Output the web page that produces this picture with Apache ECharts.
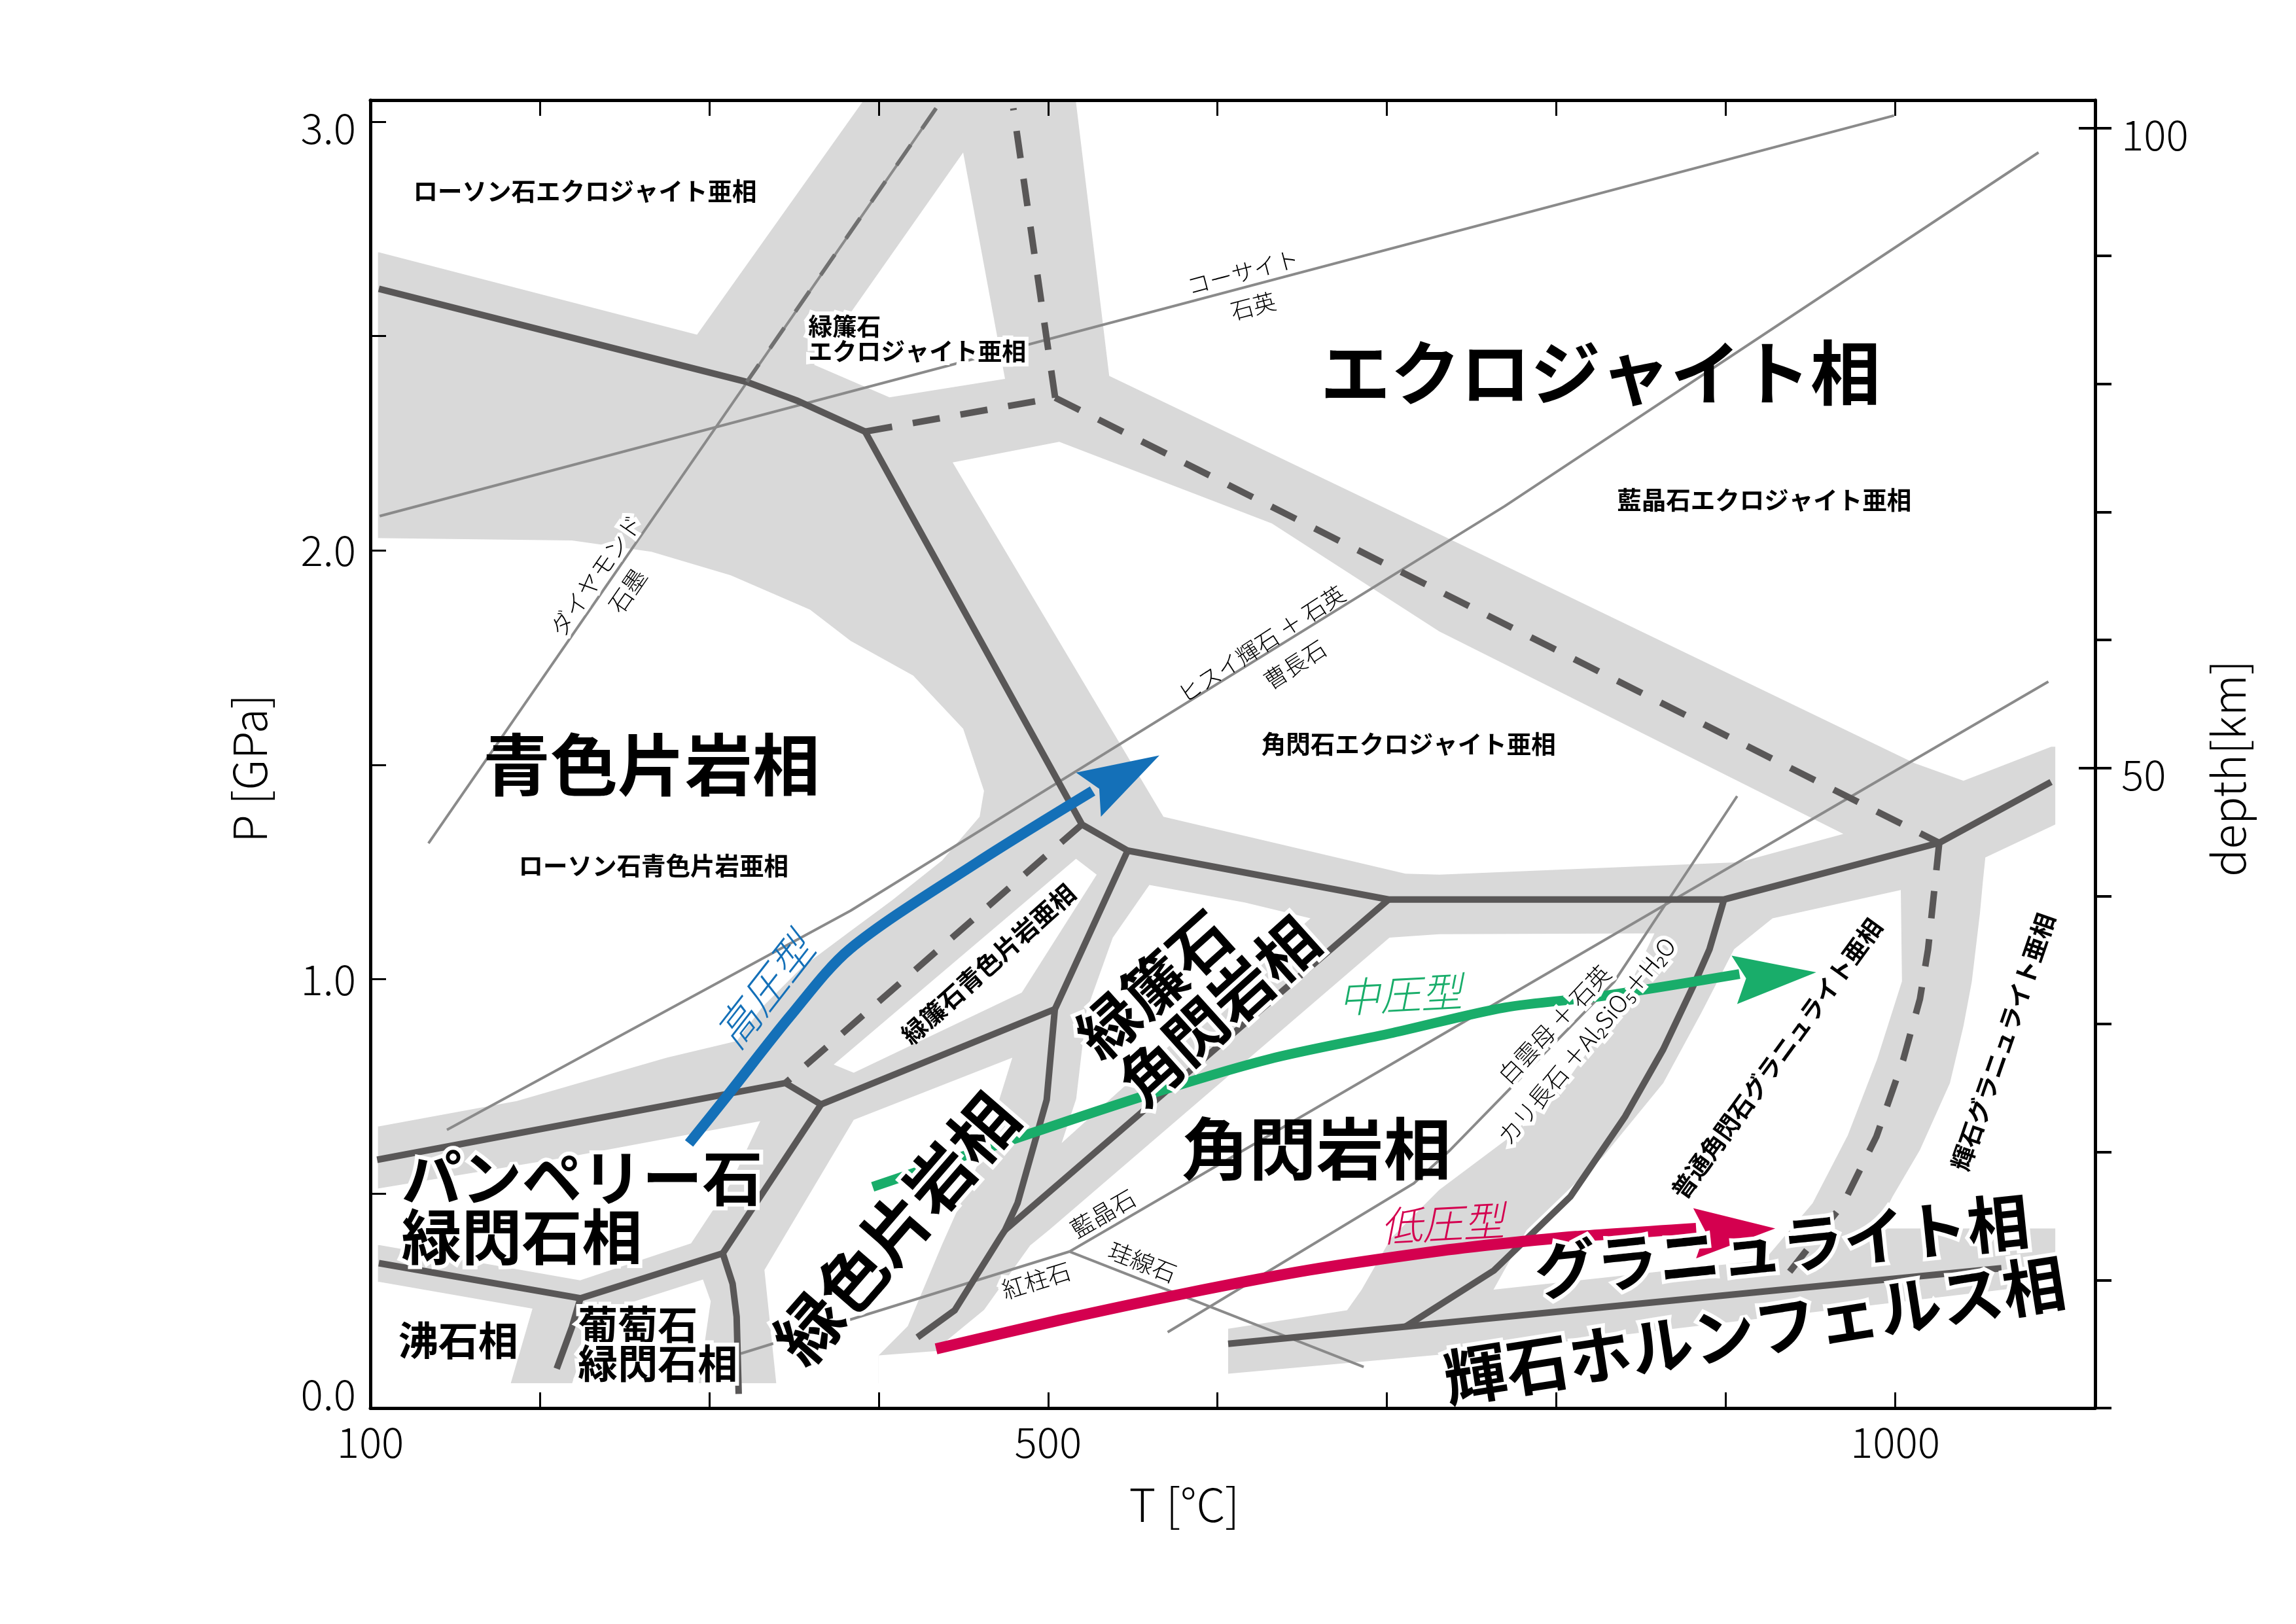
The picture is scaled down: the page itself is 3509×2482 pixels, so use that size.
<!DOCTYPE html>
<html><head><meta charset="utf-8">
<script src="https://cdn.jsdelivr.net/npm/echarts@6/dist/echarts.min.js"></script>
<style>html,body{margin:0;padding:0;background:#fff}#c{width:3509px;height:2482px}</style>
</head><body><div id="c"></div>
<script>
// ---------- axes ----------
const T_TICKS = [100,200,300,400,500,600,700,800,900,1000];
const T_LABELS = [100,500,1000];
const P_TICKS = [0,0.5,1,1.5,2,2.5,3];
const P_LABELS = [0,1,2,3];
const DEPTH_TICKS = [0,10,20,30,40,50,60,70,80,90,100];
const DEPTH_LABELS = [50,100];
const DEPTH_MAJOR = [50,100];
const KM_PER_GPA = 33.5;

// ---------- facies bands (T [°C], P [GPa]) ----------
const BAND_AREA = [[104.5,0.058],[1094.5,0.058],[1094.5,3.06],[104.5,3.06]];
// white facies fields cut out of the band area
const W1 = [[97.5,3.081],[396.8,3.081],[292.8,2.503],[105.3,2.695],[97.5,2.695]];
const W2 = [[449.9,2.928],[361.9,2.433],[406.4,2.357],[474.6,2.400]];
const W3 = [[515.3,3.081],[1125.8,3.081],[1125.8,1.542],[1092.1,1.542],[1040.3,1.463],[1011.3,1.504],[730.9,2.038],[536.1,2.407],[516.3,3.051]];
const W4 = [[443.7,2.205],[506.6,2.253],[632.1,2.063],[730.9,1.811],[969.4,1.339],[908.1,1.273],[730.9,1.244],[710.9,1.246],[568.1,1.379],[453.5,2.140]];
const W5 = [[97.5,2.029],[219.0,2.023],[265.9,1.997],[312.7,1.942],[359.5,1.862],[383.5,1.789],[420.4,1.708],[449.9,1.584],[462.2,1.439],[459.6,1.379],[437.5,1.277],[407.9,1.184],[381.3,1.106],[354.8,1.028],[331.1,0.934],[316.3,0.856],[274.9,0.817],[186.4,0.716],[105.0,0.657],[97.5,0.657]];
const W6 = [[516.5,1.281],[528.7,1.244],[484.5,0.969],[385.3,0.782],[373.5,0.801]];
const W7 = [[97.5,0.512],[104.4,0.512],[219.0,0.587],[330.1,0.669],[312.7,0.524],[289.3,0.384],[223.8,0.298],[105.6,0.380],[97.5,0.380]];
const W8 = [[97.5,0.294],[105.6,0.294],[195.7,0.232],[182.8,0.057],[182.8,-0.05],[97.5,-0.05]];
const W9 = [[233.1,0.220],[296.3,0.300],[300.9,0.249],[293.8,0.057],[293.8,-0.05],[219.0,-0.05],[219.0,0.057]];
const W10 = [[339.6,-0.05],[339.6,0.057],[332.6,0.322],[385.3,0.672],[478.9,0.817],[461.1,0.591],[437.5,0.382],[417.2,0.191],[400.0,0.123],[400.0,-0.05]];
const W11 = [[559.8,1.220],[616.0,1.179],[654.9,1.142],[508.0,0.618],[516.6,0.721],[522.7,0.926],[538.2,1.097]];
const W12 = [[400.0,-0.05],[400.0,0.123],[434.5,0.133],[440.1,0.157],[462.2,0.229],[489.4,0.379],[501.1,0.417],[701.5,1.097],[730.9,1.105],[857.9,1.107],[853.4,1.070],[837.4,0.937],[808.2,0.774],[772.8,0.633],[730.9,0.509],[702.4,0.396],[685.1,0.276],[676.5,0.228],[606.3,0.185],[606.3,-0.05]];
const W13 = [[927.6,1.142],[1003.3,1.208],[1004.0,0.995],[989.3,0.813],[972.0,0.636],[951.3,0.478],[922.7,0.345],[762.9,0.276],[782.5,0.415],[827.7,0.587],[863.1,0.758],[885.6,0.922],[904.9,1.070]];
const W14 = [[1053.2,1.284],[1099.9,1.371],[1099.9,0.419],[988.8,0.419],[998.4,0.493],[1014.6,0.602],[1032.3,0.758],[1040.3,0.891],[1045.2,0.994],[1050.0,1.153],[1051.7,1.226]];
const W15 = [[606.3,0.080],[769.5,0.138],[1078.3,0.283],[1099.9,0.311],[1099.9,-0.05],[606.3,-0.05]];
const WHITE_FIELDS = [W1,W2,W3,W4,W5,W6,W7,W8,W9,W10,W11,W12,W13,W14,W15];

// ---------- facies boundaries ----------
const SOLID_LINES = [
  [[105,2.61],[322,2.393],[352,2.349],[392,2.277]],
  [[392,2.277],[520,1.361],[547,1.30]],
  [[547,1.30],[701,1.186],[899,1.186],[1026,1.318],[1092,1.46]],
  [[547,1.30],[504,0.93]],
  [[504,0.93],[366,0.708]],
  [[104,0.579],[345,0.758],[366,0.708]],
  [[366,0.708],[308,0.361]],
  [[308,0.361],[224,0.256],[105,0.338]],
  [[224,0.256],[219,0.189],[210,0.092]],
  [[308,0.361],[313.8,0.290],[316.2,0.213],[317.4,0.033]],
  [[504,0.93],[499.2,0.719],[482,0.478],[474.6,0.415],[472.1,0.400],[444.9,0.228],[422.9,0.165]],
  [[701,1.186],[474.6,0.415]],
  [[899,1.186],[890.4,1.070],[882.1,0.995],[863,0.836],[840.6,0.680],[808.3,0.493],[763.2,0.321],[711,0.19]],
  [[606.3,0.150],[711,0.19],[1062.7,0.326]]
];
const DASHED_LINES = [
  [[1026,1.318],[1019.4,1.070],[1014.6,0.954],[1004.8,0.813],[988.9,0.633],[969.4,0.477],[930.8,0.283]],
  [[392,2.277],[504.2,2.356]],
  [[504.2,2.356],[479.5,3.031]],
  [[504.2,2.356],[1026,1.318]],
  [[520,1.361],[345,0.758]]
];
const DIAMOND_DASH = [[433.9,3.031],[322.2,2.393]];
// ---------- reaction curves ----------
const REACTIONS = [
  [[434,3.031],[134.3,1.317]],                       // diamond / graphite
  [[105.5,2.080],[999.3,3.014]],                     // coesite / quartz
  [[145.2,0.649],[383.5,1.160],[769.5,2.103],[1084.6,2.928]], // jadeite+qz / albite
  [[906.7,1.427],[834.1,0.994],[737.4,0.602],[715.9,0.524],[570.6,0.177]], // musc+qz
  [[512.7,0.365],[1090.4,1.694]],                    // ky / sil
  [[318.6,0.127],[512.7,0.365]],                     // ky / and
  [[512.7,0.365],[686.3,0.096]]                      // sil / and
];
// ---------- P-T paths ----------
const HIGH_P = [[288.1,0.617],[310.4,0.727],[347.8,0.914],[382.9,1.070],[457.3,1.270],[526.3,1.439]];
const HIGH_P_HEAD = [[565.7,1.522],[516.5,1.482],[530.2,1.444],[531.2,1.379]];
const MID_P = [[396.5,0.516],[454.9,0.594],[555.9,0.727],[629.7,0.813],[703.5,0.875],[769.5,0.934],[827.7,0.961],[908.1,1.012]];
const MID_P_HEAD = [[953.4,1.016],[903.4,1.055],[912,1.002],[906.7,0.942]];
const LOW_P = [[433.9,0.138],[506.6,0.205],[580.5,0.267],[654.4,0.322],[728.2,0.365],[769.5,0.384],[811.5,0.400],[882.5,0.419]];
const LOW_P_HEAD = [[929.2,0.419],[880.8,0.466],[888,0.412],[882.5,0.349]];

const BLUE = '#1470b8', GREEN = '#19ad6a', RED = '#d4004f';
const GRAY = '#d9d9d9', DARK = '#595757', THIN = '#8a8a8a';
const FONT = '"Noto Sans CJK JP","Noto Sans","DejaVu Sans",sans-serif';

const LABELS = [
 {text:'ローソン石エクロジャイト亜相', t:226.7, p:2.838, size:37.5},
 {text:'緑簾石\nエクロジャイト亜相', t:358.5, p:2.493, size:37, align:'left', lh:38, halo:true},
 {text:'エクロジャイト相', t:826, p:2.414, size:107},
 {text:'コーサイト', t:615, p:2.649, size:35, w:300, rot:14.8},
 {text:'石英', t:621, p:2.570, size:35, w:300, rot:14.8},
 {text:'ダイヤモンド', t:233.1, p:1.942, size:36, w:300, rot:55.3, halo:true},
 {text:'石墨', t:251.8, p:1.906, size:36, w:300, rot:55.3, halo:true},
 {text:'青色片岩相', t:265.9, p:1.500, size:103},
 {text:'ローソン石青色片岩亜相', t:267.1, p:1.266, size:37.5},
 {text:'ヒスイ輝石 ＋ 石英', t:626, p:1.782, size:35, w:300, rot:33},
 {text:'曹長石', t:645.7, p:1.734, size:35, w:300, rot:33},
 {text:'角閃石エクロジャイト亜相', t:712.8, p:1.549, size:37.5},
 {text:'藍晶石エクロジャイト亜相', t:922.7, p:2.118, size:37.5},
 {text:'高圧型', t:332.6, p:0.973, size:66, w:300, rot:52, color:BLUE, italic:true},
 {text:'緑簾石青色片岩亜相', t:464.7, p:1.036, size:38, rot:42},
 {text:'緑簾石　\n角閃岩相', t:588.3, p:0.981, size:93, rot:42, lh:96, halo:true},
 {text:'角閃岩相', t:658.3, p:0.605, size:103},
 {text:'緑色片岩相', t:410.2, p:0.419, size:101, rot:49, halo:true},
 {text:'パンペリー石\n緑閃石相', t:118.3, p:0.468, size:92, align:'left', lh:90, halo:true},
 {text:'沸石相', t:151.8, p:0.158, size:61},
 {text:'葡萄石\n緑閃石相', t:222.5, p:0.149, size:61, align:'left', lh:59, halo:true},
 {text:'紅柱石', t:493.0, p:0.298, size:36, w:300, rot:17.2, halo:true},
 {text:'藍晶石', t:532.4, p:0.454, size:36, w:300, rot:30.2, halo:true},
 {text:'珪線石', t:555.8, p:0.341, size:36, w:300, rot:-21.4, halo:true},
 {text:'中圧型', t:707.8, p:0.965, size:63, w:300, rot:3, color:GREEN, italic:true},
 {text:'低圧型', t:732.7, p:0.431, size:63, w:300, rot:3, color:RED, italic:true},
 {text:'白雲母 ＋ 石英', t:798.7, p:0.895, size:36, w:300, rot:47, halo:true},
 {text:'カリ長石 ＋Al₂SiO₅＋H₂O', t:817.8, p:0.856, size:36, w:300, rot:50, halo:true},
 {text:'普通角閃石グラニュライト亜相', t:930.1, p:0.815, size:37, rot:54},
 {text:'輝石グラニュライト亜相', t:1063.6, p:0.854, size:37.5, rot:71},
 {text:'グラニュライト相', t:933, p:0.378, size:95, rot:6, halo:true},
 {text:'輝石ホルンフェルス相', t:917, p:0.182, size:96, rot:9, halo:true}
];

// ---------- series builders ----------
function polySeries(list, color, z) {
  return {
    type:'custom', coordinateSystem:'cartesian2d', xAxisIndex:0, yAxisIndex:0,
    clip:true, silent:true, z:z, animation:false,
    data: list.map((_, i) => [i]),
    renderItem: (params, api) => ({
      type:'polygon',
      shape:{ points: list[params.dataIndex].map(pt => api.coord(pt)) },
      style:{ fill: color }
    })
  };
}
function lineSeries(pts, color, width, o) {
  o = o || {};
  return {
    type:'line', data: pts, xAxisIndex:0, yAxisIndex:0, showSymbol:false, symbol:'none',
    silent:true, animation:false, z: o.z || 4, smooth: o.smooth || false, clip:true,
    lineStyle:{ color, width, type: o.dash || 'solid', cap: o.cap || 'butt', join: o.join || 'round' }
  };
}

const series = [];
series.push(polySeries([BAND_AREA], GRAY, 1));
series.push(polySeries(WHITE_FIELDS, '#ffffff', 2));
REACTIONS.forEach(r => series.push(lineSeries(r, THIN, 4, {z:3})));
SOLID_LINES.forEach(l => series.push(lineSeries(l, DARK, 10, {z:4, join:'miter'})));
DASHED_LINES.forEach(l => series.push(lineSeries(l, DARK, 10, {z:4, dash:[42,32]})));
series.push(lineSeries(DIAMOND_DASH, '#707070', 6, {z:4, dash:[38,30]}));
series.push(lineSeries(HIGH_P, BLUE, 16, {z:5, smooth:0.3}));
series.push(lineSeries(MID_P, GREEN, 15, {z:5, smooth:0.3}));
series.push(lineSeries(LOW_P, RED, 17, {z:5, smooth:0.3}));
series.push(polySeries([HIGH_P_HEAD], BLUE, 5));
series.push(polySeries([MID_P_HEAD], GREEN, 5));
series.push(polySeries([LOW_P_HEAD], RED, 5));
series.push({
  type:'custom', coordinateSystem:'cartesian2d', xAxisIndex:0, yAxisIndex:0,
  clip:false, silent:true, z:10, animation:false,
  data: LABELS.map(l => [l.t, l.p]),
  renderItem: (params, api) => {
    const l = LABELS[params.dataIndex];
    const pt = api.coord([l.t, l.p]);
    return {
      type:'text', x:pt[0], y:pt[1], rotation:(l.rot || 0) * Math.PI / 180,
      style:{
        text:l.text, fill:l.color || '#000',
        fontSize:l.size, fontFamily:FONT, fontWeight:l.w || 'bold',
        fontStyle:l.italic ? 'italic' : 'normal',
        align:l.align || 'center', verticalAlign:'middle',
        lineHeight:l.lh || Math.round(l.size * 1.1),
        stroke:l.halo ? '#ffffff' : null, lineWidth:l.halo ? 12 : 0
      }
    };
  }
});

const tickFont = {fontSize:64, fontFamily:FONT, fontWeight:300, color:'#000'};
const AX_Z = 30;
const option = {
  animation:false,
  backgroundColor:'#ffffff',
  grid:{left:566, top:153, width:2636, height:1999, containLabel:false},
  xAxis:[
    {type:'value', min:100, max:1118, interval:100, position:'bottom', z:AX_Z,
     name:'T [°C]', nameLocation:'middle', nameGap:112,
     nameTextStyle:{fontSize:70, fontFamily:FONT, fontWeight:300, color:'#000', padding:[0,148,0,0]},
     axisLine:{show:true, onZero:false, lineStyle:{color:'#000', width:5}},
     axisTick:{show:true, inside:true, length:24, customValues:T_TICKS, lineStyle:{color:'#000', width:3}},
     axisLabel:Object.assign({customValues:T_LABELS, margin:20,
       formatter:v => T_LABELS.indexOf(v) >= 0 ? String(v) : ''}, tickFont),
     splitLine:{show:false}},
    {type:'value', min:100, max:1118, interval:100, position:'top', z:AX_Z,
     axisLine:{show:true, onZero:false, lineStyle:{color:'#000', width:5}},
     axisTick:{show:true, inside:true, length:24, customValues:T_TICKS.slice(1), lineStyle:{color:'#000', width:3}},
     axisLabel:{show:false}, splitLine:{show:false}}
  ],
  yAxis:[
    {type:'value', min:0, max:3.05, interval:0.5, position:'left', z:AX_Z,
     name:'P [GPa]', nameLocation:'middle', nameGap:150, nameRotate:90,
     nameTextStyle:{fontSize:70, fontFamily:FONT, fontWeight:300, color:'#000', padding:[0,44,0,0]},
     axisLine:{show:true, onZero:false, lineStyle:{color:'#000', width:5}},
     axisTick:{show:true, inside:true, length:24, customValues:P_TICKS, lineStyle:{color:'#000', width:3}},
     axisLabel:Object.assign({customValues:P_LABELS, margin:22,
       formatter:v => {
         if (P_LABELS.indexOf(v) < 0) return '';
         if (v === 0) return '{lo|' + v.toFixed(1) + '}';
         if (v === 3) return '{hi|' + v.toFixed(1) + '}';
         return v.toFixed(1);
       },
       rich:{lo:Object.assign({padding:[0,0,42,0]}, tickFont), hi:Object.assign({padding:[20,0,0,0]}, tickFont)}
     }, tickFont),
     splitLine:{show:false}},
    {type:'value', min:0, max:3.05 * KM_PER_GPA, interval:10, position:'right', z:AX_Z,
     name:'depth[km]', nameLocation:'middle', nameGap:168, nameRotate:90,
     nameTextStyle:{fontSize:70, fontFamily:FONT, fontWeight:300, color:'#000', padding:[0,44,0,0]},
     axisLine:{show:true, onZero:false, lineStyle:{color:'#000', width:5}},
     axisTick:{show:true, inside:false, length:25, customValues:DEPTH_TICKS, lineStyle:{color:'#000', width:4}},
     axisLabel:Object.assign({customValues:DEPTH_LABELS, margin:40,
       formatter:v => DEPTH_LABELS.indexOf(v) >= 0 ? '{d|' + v + '}' : '',
       rich:{d:Object.assign({padding:[20,0,0,0]}, tickFont)}
     }, tickFont),
     splitLine:{show:false}},
    {type:'value', min:0, max:3.05 * KM_PER_GPA, interval:10, position:'right', z:AX_Z,
     axisLine:{show:false},
     axisTick:{show:true, inside:true, length:25, customValues:DEPTH_MAJOR, lineStyle:{color:'#000', width:4}},
     axisLabel:{show:false}, splitLine:{show:false}}
  ],
  series: series
};
const chart = echarts.init(document.getElementById('c'), null, {renderer:'canvas', width:3509, height:2482});
chart.setOption(option);
</script></body></html>
